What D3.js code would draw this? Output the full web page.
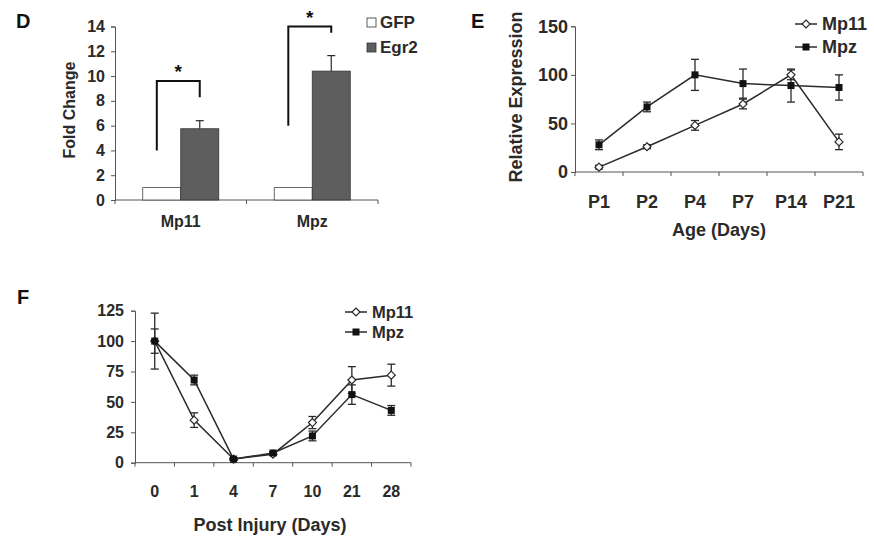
<!DOCTYPE html>
<html>
<head>
<meta charset="utf-8">
<script src="https://cdn.jsdelivr.net/npm/d3@7"></script>
<style>
  body { margin: 0; background: #fff; }
  svg { font-family: "Liberation Sans", Arial, sans-serif; font-weight: bold; }
</style>
</head>
<body>
<svg id="fig" width="874" height="544"></svg>
<script>
// panel D: fold change
const dGenes = ["Mp11", "Mpz"];
const dGroups = ["GFP", "Egr2"];
const dGFP = [1, 1];
const dEgr2 = [5.75, 10.4];
const dEgr2Err = [0.65, 1.25];
const dTicks = [0, 2, 4, 6, 8, 10, 12, 14];
// bracket: [left foot, top, right foot]
const dBrackets = [[4, 9.6, 8.3], [6, 14, 13.5]];

// panel E: age
const ages = ["P1", "P2", "P4", "P7", "P14", "P21"];
const eMp11 = [5, 26, 48, 70, 100, 31];
const eMp11Err = [2, 2, 5, 5, 5, 8];
const eMpz = [28, 67, 100, 91, 89, 87];
const eMpzErr = [5, 5, 16, 15, 17, 13];
const eTicks = [0, 50, 100, 150];

// panel F: post injury
const days = ["0", "1", "4", "7", "10", "21", "28"];
const fMp11 = [100, 35, 3, 7, 33, 68, 72];
const fMp11Err = [10, 6, 1, 1, 5, 11, 9];
const fMpz = [100, 68, 3, 8, 22, 56, 43];
const fMpzErr = [23, 4, 1, 1, 4, 8, 4];
const fTicks = [0, 25, 50, 75, 100, 125];

const ink = "#2a2a2a";
const svg = d3.select("#fig");

function bandAxis(g, x, y0, labels, labelY, fontSize) {
    const [a, b] = x.range();
    g.append("line").attr("x1", a).attr("x2", b).attr("y1", y0).attr("y2", y0)
        .attr("stroke", "#555").attr("stroke-width", 1);
    const edges = x.domain().map(d => x(d)).concat([b]);
    g.selectAll(".xt").data(edges).join("line")
        .attr("x1", d => d).attr("x2", d => d).attr("y1", y0).attr("y2", y0 + 4)
        .attr("stroke", "#555");
    g.selectAll(".xl").data(labels).join("text")
        .attr("x", d => x(d) + x.bandwidth() / 2).attr("y", labelY)
        .attr("text-anchor", "middle").attr("font-size", fontSize).attr("fill", ink)
        .text(d => d);
}

function leftAxis(g, y, x0, ticks, fontSize, pad) {
    const ax = d3.axisLeft(y).tickValues(ticks).tickSize(4).tickPadding(pad);
    const a = g.append("g").attr("transform", `translate(${x0},0)`).call(ax);
    a.select(".domain").attr("stroke", "#555");
    a.selectAll(".tick line").attr("stroke", "#555");
    a.selectAll("text").attr("font-size", fontSize).attr("fill", ink)
        .attr("font-family", "Liberation Sans, Arial, sans-serif").attr("font-weight", "bold");
}

function errBars(g, x, y, cats, vals, errs, cap) {
    cats.forEach((c, i) => {
        const cx = x(c) + x.bandwidth() / 2;
        const lo = y(vals[i] - errs[i]), hi = y(vals[i] + errs[i]);
        g.append("line").attr("x1", cx).attr("x2", cx).attr("y1", lo).attr("y2", hi)
            .attr("stroke", ink).attr("stroke-width", 1.3);
        [lo, hi].forEach(v => g.append("line").attr("x1", cx - cap).attr("x2", cx + cap)
            .attr("y1", v).attr("y2", v).attr("stroke", ink).attr("stroke-width", 1.3));
    });
}

function series(g, x, y, cats, vals, errs, marker) {
    errBars(g, x, y, cats, vals, errs, 4);
    const line = d3.line().x((d, i) => x(cats[i]) + x.bandwidth() / 2).y(d => y(d));
    g.append("path").datum(vals).attr("d", line).attr("fill", "none")
        .attr("stroke", ink).attr("stroke-width", 1.5);
    cats.forEach((c, i) => drawMarker(g, x(c) + x.bandwidth() / 2, y(vals[i]), marker));
}

function drawMarker(g, cx, cy, marker) {
    if (marker === "square") {
        g.append("rect").attr("x", cx - 3.5).attr("y", cy - 3.5).attr("width", 7).attr("height", 7)
            .attr("fill", "#111");
    } else {
        g.append("path").attr("d", `M${cx},${cy - 4}L${cx + 4},${cy}L${cx},${cy + 4}L${cx - 4},${cy}Z`)
            .attr("fill", "#fff").attr("stroke", ink).attr("stroke-width", 1.2);
    }
}

function lineLegend(g, x, ys, names, markers, fontSize) {
    names.forEach((n, i) => {
        g.append("line").attr("x1", x).attr("x2", x + 22).attr("y1", ys[i]).attr("y2", ys[i])
            .attr("stroke", ink).attr("stroke-width", 1.5);
        drawMarker(g, x + 11, ys[i], markers[i]);
        g.append("text").attr("x", x + 27).attr("y", ys[i] + fontSize * 0.36)
            .attr("font-size", fontSize).attr("fill", ink).text(n);
    });
}

function panelLabel(x, y, t) {
    svg.append("text").attr("x", x).attr("y", y).attr("font-size", 20).attr("fill", "#111").text(t);
}

function yTitle(g, cx, cy, t, fontSize, anchor) {
    return g.append("text").attr("transform", `translate(${cx},${cy}) rotate(-90)`)
        .attr("text-anchor", anchor || "middle").attr("font-size", fontSize).attr("fill", ink).text(t);
}

// ---------- D ----------
{
    const g = svg.append("g");
    const x = d3.scaleBand().domain(dGenes).range([115, 378]);
    const xi = d3.scaleBand().domain(dGroups).range([0, x.bandwidth()]).paddingOuter(0.73);
    const y = d3.scaleLinear().domain([0, 14]).range([200, 26.5]);

    leftAxis(g, y, 115, dTicks, 16, 6);
    bandAxis(g, x, 200, dGenes, 227, 16);

    dGenes.forEach((gene, i) => {
        const bx = x(gene);
        g.append("rect").attr("x", bx + xi("GFP")).attr("y", y(dGFP[i]))
            .attr("width", xi.bandwidth()).attr("height", y(0) - y(dGFP[i]))
            .attr("fill", "#fff").attr("stroke", "#444").attr("stroke-width", 0.8);
        const ex = bx + xi("Egr2");
        g.append("rect").attr("x", ex).attr("y", y(dEgr2[i]))
            .attr("width", xi.bandwidth()).attr("height", y(0) - y(dEgr2[i]))
            .attr("fill", "#5e5e5e").attr("stroke", "#333").attr("stroke-width", 0.8);
        const cx = ex + xi.bandwidth() / 2;
        const top = y(dEgr2[i] + dEgr2Err[i]);
        g.append("line").attr("x1", cx).attr("x2", cx).attr("y1", y(dEgr2[i])).attr("y2", top)
            .attr("stroke", ink).attr("stroke-width", 1.2);
        g.append("line").attr("x1", cx - 4).attr("x2", cx + 4).attr("y1", top).attr("y2", top)
            .attr("stroke", ink).attr("stroke-width", 1.2);

        const [lf, tp, rf] = dBrackets[i];
        const lx = bx + xi("GFP") + xi.bandwidth() * 0.37;
        const rx = ex + xi.bandwidth() * 0.5;
        g.append("path").attr("d", `M${lx},${y(lf)}V${y(tp)}H${rx}V${y(rf)}`)
            .attr("fill", "none").attr("stroke", "#111").attr("stroke-width", 2);
        g.append("text").attr("x", (lx + rx) / 2).attr("y", y(tp) - 3).attr("text-anchor", "middle")
            .attr("font-size", 19).attr("fill", "#111").text("*");
    });

    yTitle(g, 75, 110, "Fold Change", 16);

    dGroups.forEach((n, i) => {
        const ly = 18 + i * 25;
        g.append("rect").attr("x", 367).attr("y", ly).attr("width", 9).attr("height", 9)
            .attr("fill", i === 0 ? "#fff" : "#5e5e5e").attr("stroke", "#333").attr("stroke-width", 0.8);
        g.append("text").attr("x", 380).attr("y", ly + 10).attr("font-size", 17).attr("fill", ink).text(n);
    });
    panelLabel(16, 28, "D");
}

// ---------- E ----------
{
    const g = svg.append("g");
    const x = d3.scaleBand().domain(ages).range([575, 863]);
    const y = d3.scaleLinear().domain([0, 150]).range([172, 26.3]);

    leftAxis(g, y, 575, eTicks, 18, 3);
    bandAxis(g, x, 172, ages, 208, 18);
    series(g, x, y, ages, eMpz, eMpzErr, "square");
    series(g, x, y, ages, eMp11, eMp11Err, "diamond");

    yTitle(g, 522, 97, "Relative Expression", 18);
    g.append("text").attr("x", 719).attr("y", 236).attr("text-anchor", "middle")
        .attr("font-size", 18).attr("fill", ink).text("Age (Days)");
    lineLegend(g, 795, [24, 47], ["Mp11", "Mpz"], ["diamond", "square"], 18);
    panelLabel(471, 28, "E");
}

// ---------- F ----------
{
    const g = svg.append("g");
    const x = d3.scaleBand().domain(days).range([135, 411]);
    const y = d3.scaleLinear().domain([0, 125]).range([462.7, 310.7]);

    leftAxis(g, y, 135, fTicks, 16, 7);
    bandAxis(g, x, 462.7, days, 497, 16);
    series(g, x, y, days, fMp11, fMp11Err, "diamond");
    series(g, x, y, days, fMpz, fMpzErr, "square");

    svg.append("clipPath").attr("id", "fclip").append("rect")
        .attr("x", 0).attr("y", 302).attr("width", 120).attr("height", 200);
    yTitle(g, 78, 470, "Relative Expression", 18, "start").attr("clip-path", "url(#fclip)");
    g.append("text").attr("x", 270).attr("y", 531).attr("text-anchor", "middle")
        .attr("font-size", 18).attr("fill", ink).text("Post Injury (Days)");
    lineLegend(g, 345, [312, 332], ["Mp11", "Mpz"], ["diamond", "square"], 16.5);
    panelLabel(17, 304, "F");
}
</script>
</body>
</html>
